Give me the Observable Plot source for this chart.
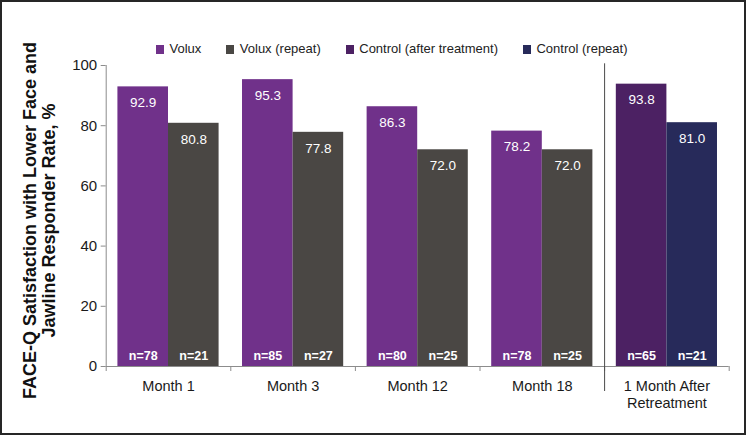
<!DOCTYPE html>
<html>
<head>
<meta charset="utf-8">
<script src="https://cdn.jsdelivr.net/npm/d3@7"></script>
<script src="https://cdn.jsdelivr.net/npm/@observablehq/plot@0.6"></script>
<style>
  html, body { margin: 0; padding: 0; background: #fff; }
  #wrap { position: relative; width: 746px; height: 435px; overflow: hidden; font-family: "Liberation Sans", Arial, sans-serif; }
  #border { position: absolute; left: 0; top: 0; width: 746px; height: 435px; box-sizing: border-box; border: 2px solid #262626; pointer-events: none; }
  #legend { position: absolute; top: 41px; left: 156px; display: flex; gap: 25px; font-size: 13px; color: #222; line-height: 16px; }
  .item { display: flex; align-items: center; }
  .sw { width: 8px; height: 9px; margin-right: 5.5px; }
  #chart { position: absolute; left: 0; top: 0; }
</style>
</head>
<body>
<div id="wrap">
  <div id="chart"></div>
  <div id="legend"></div>
  <div id="border"></div>
</div>
<script>
// ---- data ----
const groups = ["Month 1", "Month 3", "Month 12", "Month 18", "1 Month After\nRetreatment"];
const firstSeries = ["Volux", "Volux", "Volux", "Volux", "Control (after treatment)"];
const firstValues = [92.9, 95.3, 86.3, 78.2, 93.8];
const firstN = [78, 85, 80, 78, 65];
const secondSeries = ["Volux (repeat)", "Volux (repeat)", "Volux (repeat)", "Volux (repeat)", "Control (repeat)"];
const secondValues = [80.8, 77.8, 72.0, 72.0, 81.0];
const secondN = [21, 27, 25, 25, 21];
const seriesNames = ["Volux", "Volux (repeat)", "Control (after treatment)", "Control (repeat)"];
const seriesColors = ["#70318A", "#4A4744", "#4C2163", "#272A5A"];
const yTicks = [0, 20, 40, 60, 80, 100];
const yTitle = "FACE-Q Satisfaction with Lower Face and\nJawline Responder Rate, %";

// ---- table ----
const rows = [];
groups.forEach((g, i) => {
  rows.push({g, i, slot: 0, series: firstSeries[i], value: firstValues[i], n: firstN[i]});
  rows.push({g, i, slot: 1, series: secondSeries[i], value: secondValues[i], n: secondN[i]});
});
const pad = 0.094;
const bx1 = d => d.i + (d.slot ? 0.5 : pad);
const bx2 = d => d.i + (d.slot ? 1 - pad : 0.5);
const bxc = d => (bx1(d) + bx2(d)) / 2;
const boundaries = d3.range(groups.length + 1);
const font = '"Liberation Sans", Arial, sans-serif';

const chart = Plot.plot({
  width: 746,
  height: 435,
  marginLeft: 105.7,
  marginRight: 17.3,
  marginTop: 65,
  marginBottom: 69,
  style: {fontFamily: font, background: "transparent"},
  x: {type: "linear", domain: [0, groups.length], axis: null},
  y: {domain: [0, 100], axis: null},
  color: {domain: seriesNames, range: seriesColors},
  marks: [
    Plot.rect(rows, {x1: bx1, x2: bx2, y1: 0, y2: "value", fill: "series"}),
    Plot.ruleY([0], {stroke: "#8c8c8c", strokeWidth: 1}),
    Plot.ruleX([0], {stroke: "#8c8c8c", strokeWidth: 1}),
    Plot.axisX({ticks: boundaries, tickSize: 5, tickFormat: () => "", label: null, stroke: "#8c8c8c"}),
    Plot.axisY({ticks: yTicks, tickSize: 5, tickPadding: 4, fontSize: 15, label: null, stroke: "#8c8c8c", fill: "#1a1a1a"}),
    Plot.ruleX([groups.length - 1], {y1: 100, y2: 0, insetTop: -1.7, insetBottom: -25, stroke: "#4a4a4a", strokeWidth: 1}),
    Plot.text(groups, {x: (d, i) => i + 0.5, y: 0, text: d => d, lineAnchor: "top", dy: 12, fontSize: 14.5, lineHeight: 1.17, fill: "#1a1a1a"}),
    Plot.text(rows, {x: bxc, y: "value", text: d => d.value.toFixed(1), fill: "white", fontSize: 13.5, dy: 16}),
    Plot.text(rows, {x: bxc, y: 0, text: d => `n=${d.n}`, fill: "white", fontSize: 12.5, fontWeight: "bold", lineAnchor: "bottom", dy: -7}),
    Plot.text([yTitle], {frameAnchor: "left", textAnchor: "middle", lineAnchor: "middle", rotate: -90, dx: -67, dy: 4.5, fontSize: 18, fontWeight: "bold", lineHeight: 1.1, fill: "#111", text: d => d})
  ]
});
document.getElementById("chart").appendChild(chart);

// ---- legend ----
const legend = document.getElementById("legend");
seriesNames.forEach((name, k) => {
  const item = document.createElement("div");
  item.className = "item";
  const sw = document.createElement("span");
  sw.className = "sw";
  sw.style.background = seriesColors[k];
  const label = document.createElement("span");
  label.textContent = name;
  item.appendChild(sw);
  item.appendChild(label);
  legend.appendChild(item);
});
</script>
</body>
</html>
